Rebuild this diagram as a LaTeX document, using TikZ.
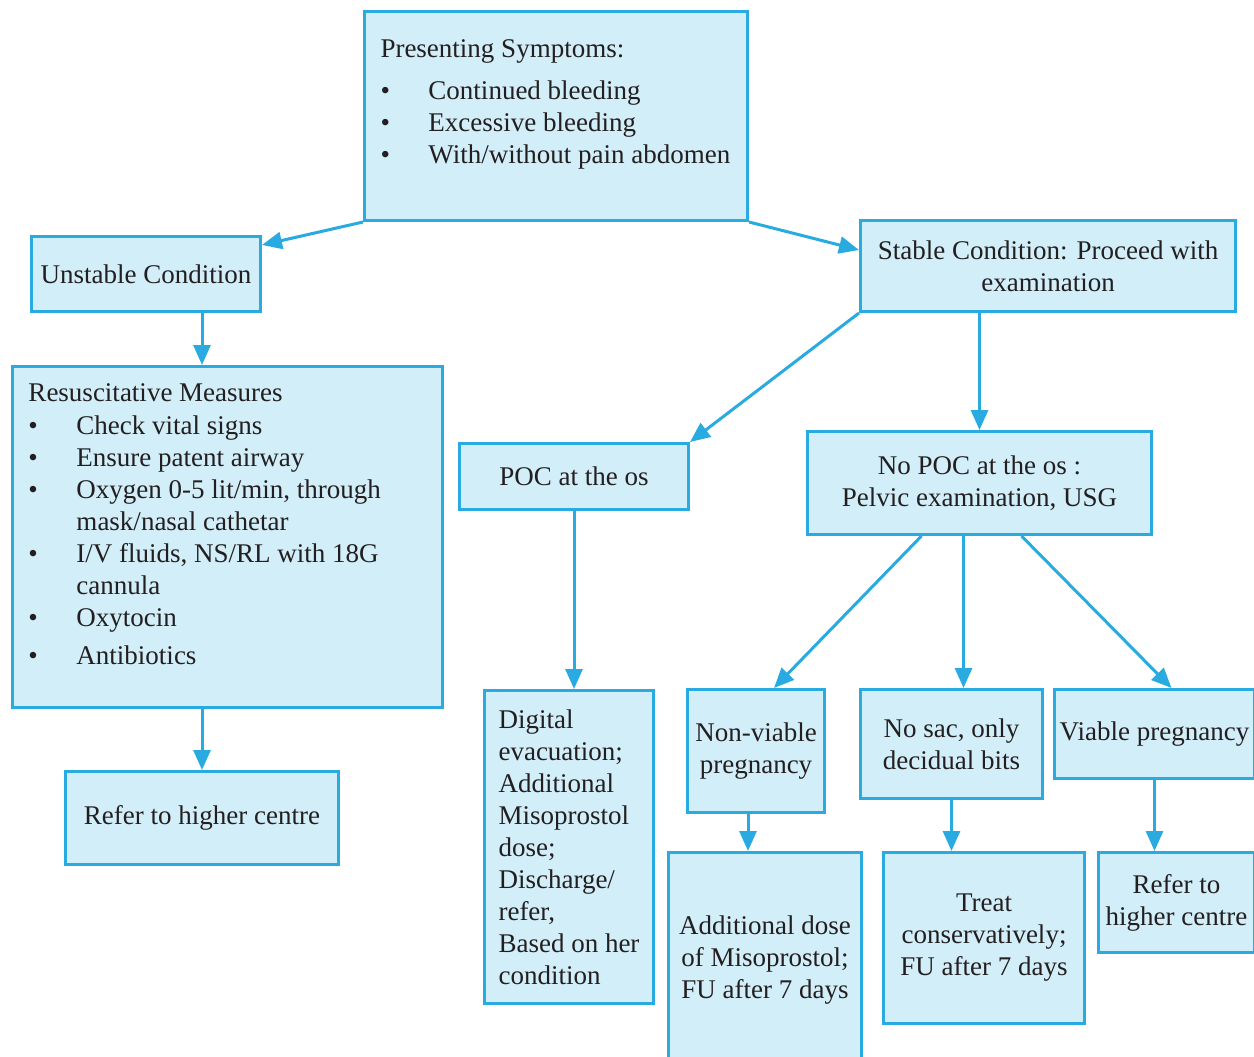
\documentclass[tikz,border=0pt]{standalone}
\usepackage{fontspec}
\setmainfont{Liberation Serif}
\usetikzlibrary{arrows.meta}

\definecolor{boxfill}{HTML}{D2EEF9}
\definecolor{boxline}{HTML}{29ABE2}
\definecolor{ink}{HTML}{231F20}

\newcommand{\bul}{\makebox[48pt][l]{\textbullet}}

\tikzset{
  box/.style={draw=boxline, fill=boxfill, line width=3pt, anchor=north west,
    inner sep=0pt, text=ink, font=\fontsize{27}{32}\selectfont},
  link/.style={draw=boxline, line width=3pt, -{Triangle[length=20pt,width=17pt]}},
}

\begin{document}
\begin{tikzpicture}[x=1pt,y=-1pt]

      \useasboundingbox (0,0) rectangle (1254,1057);

      \begin{scope}[every node/.style={box}]
        \node (symptoms) at (363,10) {\parbox[c][209pt][t]{383pt}{\raggedright\leftskip=16pt
          \vspace*{28pt}Presenting Symptoms:\\[10pt]
          \bul Continued bleeding\\
          \bul Excessive bleeding\\
          \bul With/without pain abdomen}};
        \node[minimum width=229pt, minimum height=75pt] (unstable) at (30,235) {Unstable Condition};
        \node[minimum width=375pt, minimum height=91pt, align=center] (stable) at (859,219)
          {Stable Condition: Proceed with\\examination};
        \node (resus) at (11,365) {\parbox[c][341pt][t]{430pt}{\raggedright\leftskip=16pt
          \vspace*{17pt}Resuscitative Measures\\[1pt]
          \bul Check vital signs\\
          \bul Ensure patent airway\\
          \bul Oxygen 0-5 lit/min, through\\
          \hspace*{48pt}mask/nasal cathetar\\
          \bul I/V fluids, NS/RL with 18G\\
          \hspace*{48pt}cannula\\
          \bul Oxytocin\\[6pt]
          \bul Antibiotics}};
        \node[minimum width=273pt, minimum height=93pt] (refera) at (64,770) {Refer to higher centre};
        \node[minimum width=229pt, minimum height=66pt] (poc) at (458,442) {POC at the os};
        \node[minimum width=344pt, minimum height=103pt, align=center] (nopoc) at (806,430)
          {No POC at the os :\\Pelvic examination, USG};
        \node[minimum width=169pt, minimum height=313pt, align=left] (digital) at (483,689)
          {Digital\\evacuation;\\Additional\\Misoprostol\\dose;\\Discharge/\\refer,\\Based on her\\condition};
        \node[minimum width=137pt, minimum height=123pt, align=center] (nonviable) at (686,688)
          {Non-viable\\pregnancy};
        \node[minimum width=182pt, minimum height=109pt, align=center] (nosac) at (859,688)
          {No sac, only\\decidual bits};
        \node[minimum width=200pt, minimum height=89pt] (viable) at (1053,688) {Viable pregnancy};
        \node[minimum width=193pt, minimum height=215pt, align=center] (misoprostol) at (667,851)
          {Additional dose\\of Misoprostol;\\FU after 7 days};
        \node[minimum width=201pt, minimum height=171pt, align=center] (treat) at (882,851)
          {Treat\\conservatively;\\FU after 7 days};
        \node[minimum width=156pt, minimum height=100pt, align=center] (referb) at (1097,851)
          {Refer to\\higher centre};
      \end{scope}

      \begin{scope}[every edge/.style={link}]
        \path (symptoms.south west) edge ([yshift=-10pt]unstable.north east);
        \path (symptoms.south east) edge ([yshift=-31pt]stable.north west);
        \path ([xshift=56pt]unstable.south) edge ([xshift=56pt]unstable.south |- resus.north);
        \path (refera.north |- resus.south) edge (refera.north);
        \path (stable.south west) edge (poc.north east);
        \path (stable.south -| nopoc.north) edge (nopoc.north);
        \path (poc.south) edge (poc.south |- digital.north);
        \path ([xshift=-58pt]nopoc.south) edge ([xshift=18pt]nonviable.north);
        \path ([xshift=-16pt]nopoc.south) edge ([xshift=-16pt]nopoc.south |- nosac.north);
        \path ([xshift=42pt]nopoc.south) edge ([xshift=17pt]viable.north);
        \path ([xshift=-8pt]nonviable.south) edge ([xshift=-8pt]nonviable.south |- misoprostol.north);
        \path (nosac.south) edge (nosac.south |- treat.north);
        \path (viable.south) edge (viable.south |- referb.north);
      \end{scope}

    \end{tikzpicture}
\end{document}
